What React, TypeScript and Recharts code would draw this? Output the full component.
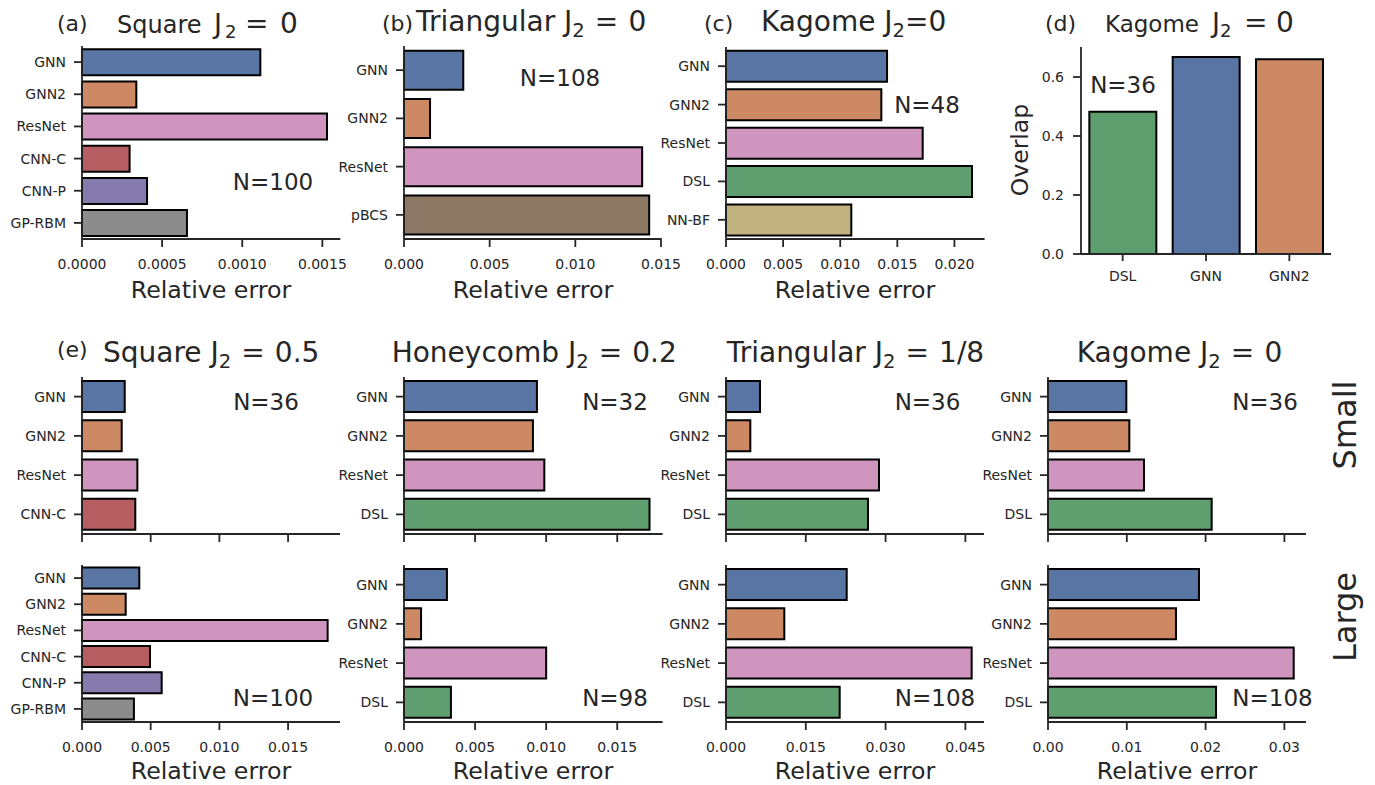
import { BarChart, Bar, XAxis, YAxis, Cell } from 'recharts';

const INK = '#262626';
const FONT = '"DejaVu Sans", Verdana, sans-serif';

// seaborn "deep" palette as barplot draws it (saturation 0.75)
const COLORS: Record<string, string> = {
  GNN: '#5875A4',
  GNN2: '#CC8963',
  ResNet: '#D095BF',
  'CNN-C': '#B55D60',
  'CNN-P': '#857AAB',
  'GP-RBM': '#8C8C8C',
  pBCS: '#8D7866',
  DSL: '#5F9E6E',
  'NN-BF': '#C1B37F',
};

// (a) square, J2 = 0
const squareMethods = ['GNN', 'GNN2', 'ResNet', 'CNN-C', 'CNN-P', 'GP-RBM'];
const squareJ0Err = [0.001113, 0.000339, 0.001529, 0.000297, 0.000406, 0.000655];

// (b) triangular, J2 = 0
const triMethods = ['GNN', 'GNN2', 'ResNet', 'pBCS'];
const triJ0Err = [0.00346, 0.00152, 0.0139, 0.01431];

// (c) kagome, J2 = 0
const kagMethods = ['GNN', 'GNN2', 'ResNet', 'DSL', 'NN-BF'];
const kagJ0Err = [0.0141, 0.0136, 0.01722, 0.02154, 0.01097];

// (d) kagome overlap
const overlapMethods = ['DSL', 'GNN', 'GNN2'];
const overlapValues = [0.482, 0.668, 0.66];

// (e) frustrated models, small / large lattices
const sqSmallMethods = ['GNN', 'GNN2', 'ResNet', 'CNN-C'];
const sqSmallErr = [0.00311, 0.00289, 0.00403, 0.00388];
const sqLargeErr = [0.00417, 0.00318, 0.01788, 0.00495, 0.0058, 0.00378];

const fourMethods = ['GNN', 'GNN2', 'ResNet', 'DSL'];
const honeySmallErr = [0.00935, 0.00907, 0.00987, 0.01727];
const honeyLargeErr = [0.00302, 0.0012, 0.01, 0.0033];
const triSmallErr = [0.00639, 0.00457, 0.02876, 0.02669];
const triLargeErr = [0.02269, 0.01096, 0.04618, 0.02137];
const kagSmallErr = [0.00994, 0.01032, 0.01218, 0.02077];
const kagLargeErr = [0.01916, 0.01624, 0.03118, 0.02132];

const ticks0015 = [0, 0.0005, 0.001, 0.0015];
const ticks015 = [0, 0.005, 0.01, 0.015];
const ticks020 = [0, 0.005, 0.01, 0.015, 0.02];
const ticks045 = [0, 0.015, 0.03, 0.045];
const ticks03 = [0, 0.01, 0.02, 0.03];
const overlapTicks = [0, 0.2, 0.4, 0.6];

const tickStyle = { fill: INK, fontSize: 14, fontFamily: FONT };
const lineStyle = { stroke: INK, strokeWidth: 1.8 };

type HBarProps = {
  x0: number;
  x1: number;
  y0: number;
  y1: number;
  names: string[];
  values: number[];
  max: number;
  ticks: number[];
  digits: number;
  labels?: boolean;
};

// horizontal bars, plot area placed at (x0,y0)-(x1,y1) on the page
function HBarPanel({ x0, x1, y0, y1, names, values, max, ticks, digits, labels = true }: HBarProps) {
  const YW = 90;
  const MT = 4;
  const MR = 30;
  const XH = 40;
  const rows = names.map((name, i) => ({ name, value: values[i] }));
  return (
    <div style={{ position: 'absolute', left: x0 - YW, top: y0 - MT }}>
      <BarChart
        layout="vertical"
        width={x1 - x0 + YW + MR}
        height={y1 - y0 + MT + XH}
        data={rows}
        margin={{ top: MT, right: MR, bottom: 0, left: 0 }}
        barCategoryGap="10%"
      >
        <XAxis
          type="number"
          dataKey="value"
          domain={[0, max]}
          ticks={ticks}
          interval={0}
          height={XH}
          axisLine={lineStyle}
          tickLine={lineStyle}
          tickSize={8}
          tickMargin={12}
          tick={tickStyle}
          tickFormatter={(v: number) => (labels ? v.toFixed(digits) : '')}
        />
        <YAxis
          type="category"
          dataKey="name"
          width={YW}
          interval={0}
          axisLine={lineStyle}
          tickLine={lineStyle}
          tickSize={8}
          tickMargin={8}
          tick={tickStyle}
        />
        <Bar dataKey="value" stroke="#000" strokeWidth={2} isAnimationActive={false}>
          {rows.map((r) => (
            <Cell key={r.name} fill={COLORS[r.name]} />
          ))}
        </Bar>
      </BarChart>
    </div>
  );
}

function OverlapPanel() {
  const x0 = 1081, x1 = 1331, y0 = 47, y1 = 254;
  const YW = 60, MT = 4, MR = 10, XH = 40;
  const rows = overlapMethods.map((name, i) => ({ name, value: overlapValues[i] }));
  return (
    <div style={{ position: 'absolute', left: x0 - YW, top: y0 - MT }}>
      <BarChart
        width={x1 - x0 + YW + MR}
        height={y1 - y0 + MT + XH}
        data={rows}
        margin={{ top: MT, right: MR, bottom: 0, left: 0 }}
        barCategoryGap="10%"
      >
        <XAxis
          dataKey="name"
          height={XH}
          interval={0}
          axisLine={lineStyle}
          tickLine={lineStyle}
          tickSize={7}
          tickMargin={10}
          tick={tickStyle}
        />
        <YAxis
          type="number"
          domain={[0, 0.7017]}
          ticks={overlapTicks}
          interval={0}
          width={YW}
          axisLine={lineStyle}
          tickLine={lineStyle}
          tickSize={8}
          tickMargin={9}
          tick={tickStyle}
          tickFormatter={(v: number) => v.toFixed(1)}
        />
        <Bar dataKey="value" stroke="#000" strokeWidth={2} isAnimationActive={false}>
          {rows.map((r) => (
            <Cell key={r.name} fill={COLORS[r.name]} />
          ))}
        </Bar>
      </BarChart>
    </div>
  );
}

// title of the form "<name> J₂ = <value>"
function Title({ x, y, size, name, value, tight = false }: { x: number; y: number; size: number; name: string; value: string; tight?: boolean }) {
  const sub = size * 0.2;
  const gap = tight ? 0 : size * 0.36;
  return (
    <text x={x} y={y} fontSize={size} fill={INK} style={{ whiteSpace: 'pre' }}>
      {name + ' J'}
      <tspan dy={sub} fontSize={size * 0.7}>2</tspan>
      <tspan dy={-sub} dx={gap}>=</tspan>
      <tspan dx={gap}>{value}</tspan>
    </text>
  );
}

// same title with the math part set larger and placed piece by piece
function WideTitle({ y, size, name, value, xs }: { y: number; size: number; name: string; value: string; xs: number[] }) {
  const [xName, xJ, xSub, xEq, xVal] = xs;
  return (
    <text y={y} fontSize={size} fill={INK}>
      <tspan x={xName}>{name}</tspan>
      <tspan x={xJ} fontSize={27}>J</tspan>
      <tspan x={xSub} dy={5} fontSize={18}>2</tspan>
      <tspan x={xEq} dy={-5} fontSize={28}>=</tspan>
      <tspan x={xVal} fontSize={28}>{value}</tspan>
    </text>
  );
}

function Letter({ x, y, t }: { x: number; y: number; t: string }) {
  return (
    <text x={x} y={y} fontSize={22} fill={INK}>
      {t}
    </text>
  );
}

function NLabel({ x, y, t }: { x: number; y: number; t: string }) {
  return (
    <text x={x} y={y} fontSize={23} fill={INK} textAnchor="middle">
      {t}
    </text>
  );
}

function XLabel({ x, y }: { x: number; y: number }) {
  return (
    <text x={x} y={y} fontSize={23.7} fill={INK} textAnchor="middle">
      Relative error
    </text>
  );
}

function SideLabel({ x, y, t, size }: { x: number; y: number; t: string; size: number }) {
  return (
    <text transform={`translate(${x},${y}) rotate(-90)`} fontSize={size} fill={INK} textAnchor="middle">
      {t}
    </text>
  );
}

export default function App() {
  return (
    <div
      style={{
        position: 'absolute',
        left: 0,
        top: 0,
        width: 1375,
        height: 785,
        background: '#fff',
        fontFamily: FONT,
        overflow: 'hidden',
      }}
    >
      {/* top row */}
      <HBarPanel x0={81.7} x1={340} y0={46} y1={239} names={squareMethods} values={squareJ0Err} max={0.001612} ticks={ticks0015} digits={4} />
      <HBarPanel x0={404} x1={661.7} y0={46} y1={239} names={triMethods} values={triJ0Err} max={0.01504} ticks={ticks015} digits={3} />
      <HBarPanel x0={725.7} x1={984.3} y0={47} y1={239} names={kagMethods} values={kagJ0Err} max={0.02264} ticks={ticks020} digits={3} />
      <OverlapPanel />

      {/* bottom block: small lattices */}
      <HBarPanel x0={82} x1={340} y0={377} y1={534} names={sqSmallMethods} values={sqSmallErr} max={0.01878} ticks={ticks015} digits={3} labels={false} />
      <HBarPanel x0={403.7} x1={662.3} y0={377} y1={534} names={fourMethods} values={honeySmallErr} max={0.01819} ticks={ticks015} digits={3} labels={false} />
      <HBarPanel x0={726} x1={984} y0={377} y1={534} names={fourMethods} values={triSmallErr} max={0.0485} ticks={ticks045} digits={3} labels={false} />
      <HBarPanel x0={1048} x1={1306} y0={377} y1={534} names={fourMethods} values={kagSmallErr} max={0.03274} ticks={ticks03} digits={2} labels={false} />

      {/* bottom block: large lattices */}
      <HBarPanel x0={82} x1={340} y0={565} y1={722} names={squareMethods} values={sqLargeErr} max={0.01878} ticks={ticks015} digits={3} />
      <HBarPanel x0={403.7} x1={662.3} y0={565} y1={722} names={fourMethods} values={honeyLargeErr} max={0.01819} ticks={ticks015} digits={3} />
      <HBarPanel x0={726} x1={984} y0={565} y1={722} names={fourMethods} values={triLargeErr} max={0.0485} ticks={ticks045} digits={3} />
      <HBarPanel x0={1048} x1={1306} y0={565} y1={722} names={fourMethods} values={kagLargeErr} max={0.03274} ticks={ticks03} digits={2} />

      <svg
        width={1375}
        height={785}
        style={{ position: 'absolute', left: 0, top: 0, pointerEvents: 'none', fontFamily: FONT }}
      >
        <Letter x={57} y={31} t="(a)" />
        <WideTitle y={33} size={24} name="Square" value="0" xs={[117, 214, 225, 245, 280]} />
        <Letter x={382} y={31} t="(b)" />
        <Title x={416} y={31} size={28} name="Triangular" value="0" />
        <Letter x={704} y={31} t="(c)" />
        <Title x={761} y={31} size={28} name="Kagome" value="0" tight />
        <Letter x={1045} y={31} t="(d)" />
        <WideTitle y={32} size={23} name="Kagome" value="0" xs={[1105, 1212, 1220, 1244, 1276]} />

        <Letter x={57} y={357} t="(e)" />
        <Title x={103} y={362} size={28} name="Square" value="0.5" />
        <Title x={391.7} y={362} size={28} name="Honeycomb" value="0.2" />
        <Title x={726.7} y={362} size={28} name="Triangular" value="1/8" />
        <Title x={1076.7} y={362} size={28} name="Kagome" value="0" />

        <NLabel x={273} y={190} t="N=100" />
        <NLabel x={560} y={86} t="N=108" />
        <NLabel x={927} y={113} t="N=48" />
        <NLabel x={1123} y={93} t="N=36" />

        <NLabel x={266} y={410} t="N=36" />
        <NLabel x={615} y={410} t="N=32" />
        <NLabel x={927.5} y={410} t="N=36" />
        <NLabel x={1265} y={410} t="N=36" />
        <NLabel x={273} y={706} t="N=100" />
        <NLabel x={615} y={706} t="N=98" />
        <NLabel x={935} y={706} t="N=108" />
        <NLabel x={1272.5} y={706} t="N=108" />

        <XLabel x={211} y={298} />
        <XLabel x={533} y={298} />
        <XLabel x={855} y={298} />
        <XLabel x={211} y={779} />
        <XLabel x={533} y={779} />
        <XLabel x={855} y={779} />
        <XLabel x={1177} y={779} />

        <SideLabel x={1028} y={150} t="Overlap" size={23.5} />
        <SideLabel x={1356} y={425} t="Small" size={32} />
        <SideLabel x={1356} y={617} t="Large" size={32} />
      </svg>
    </div>
  );
}
